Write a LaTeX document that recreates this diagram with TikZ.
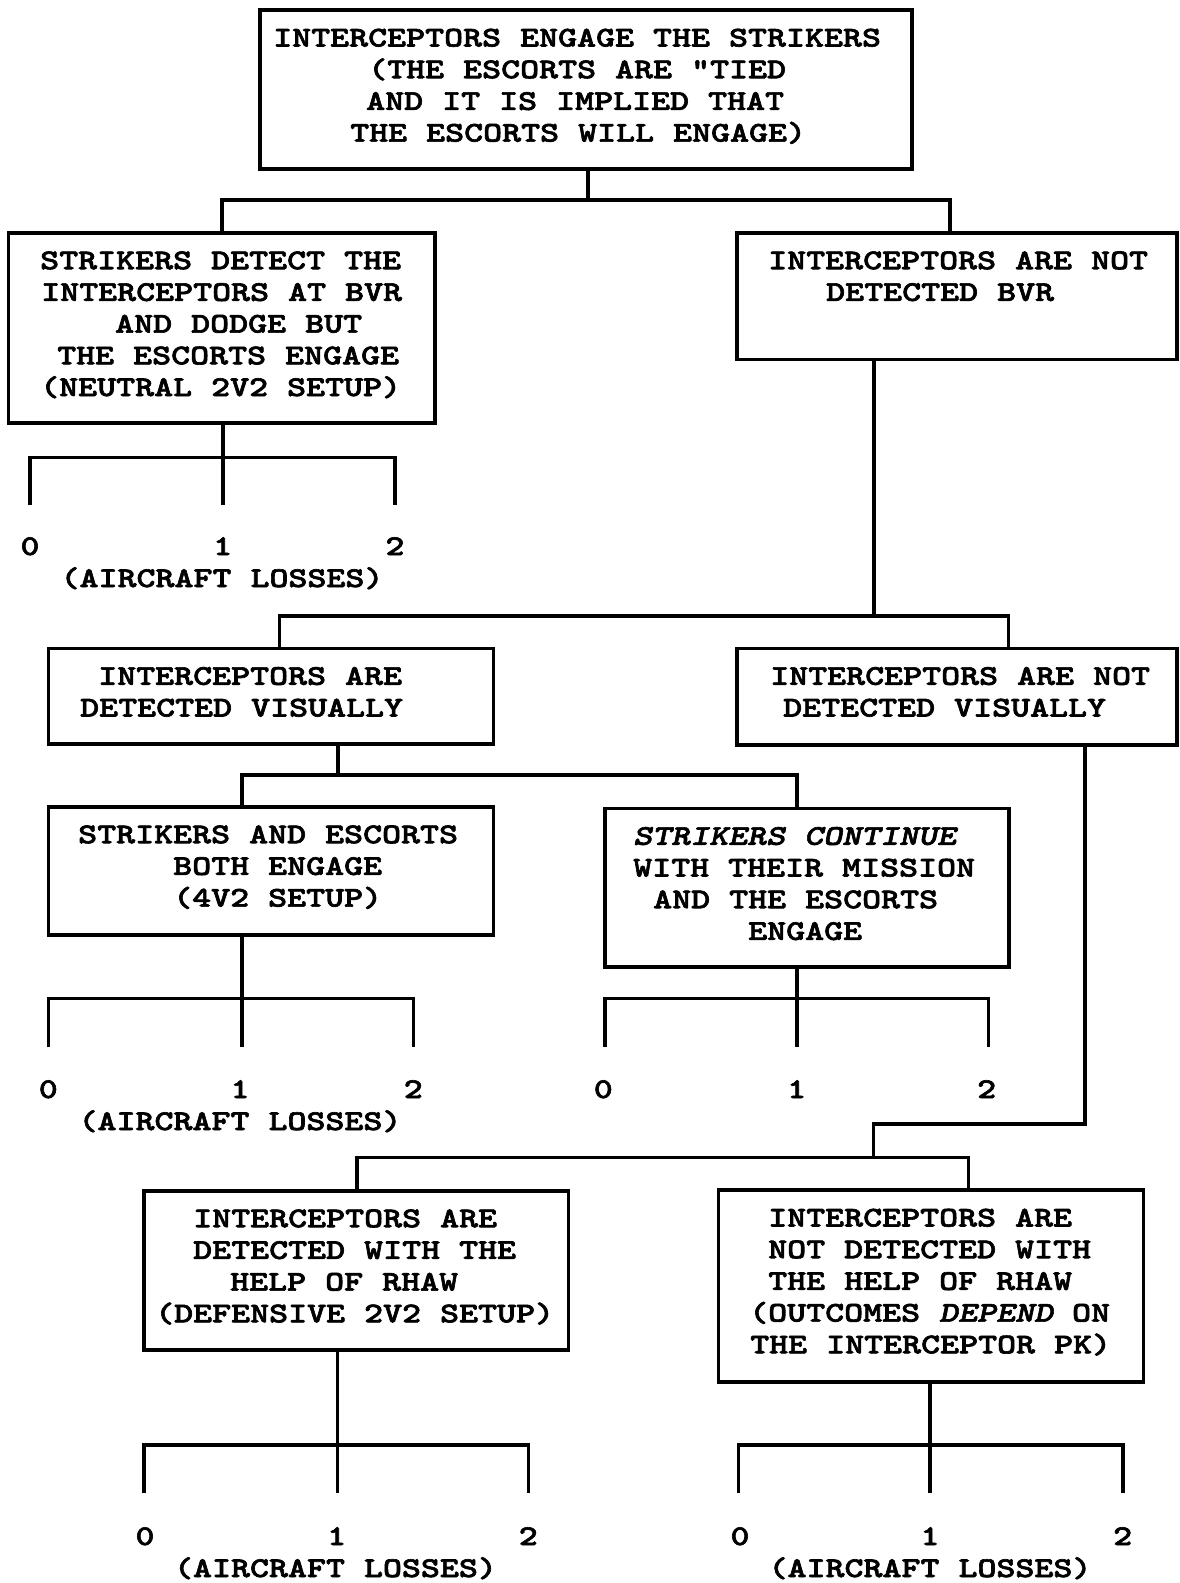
\documentclass[tikz,border=0pt]{standalone}
\usepackage{fontspec}
\newfontfamily\tw{lmmonolt10-bold.otf}[FakeStretch=1.265, FakeBold=2.2, ItalicFont=lmmonolt10-boldoblique.otf]
\begin{document}
\begin{tikzpicture}[x=1pt,y=-1pt,
  box/.style={draw, line width=3.6pt, inner sep=0pt, outer sep=0pt},
  conn/.style={line width=3.6pt},
  txt/.style={inner sep=0pt, anchor=base west, font=\fontsize{28.6}{31.7}\tw},
  lbl/.style={inner sep=0pt, anchor=base, font=\fontsize{28.6}{31.7}\tw}]
\useasboundingbox (0,0) rectangle (1179,1583);

% ---------- boxes ----------
\node[box, minimum width=652pt,   minimum height=159pt]   (top) at (586,89.5) {};
\node[box, minimum width=426.5pt, minimum height=190.3pt] (A)   at (221.75,327.85) {};
\node[box, minimum width=440.3pt, minimum height=126.6pt] (B)   at (956.85,296) {};
\node[box, minimum width=445pt,   minimum height=95.7pt]  (C)   at (270.8,696.15) {};
\node[box, minimum width=440.3pt, minimum height=96.7pt]  (D)   at (956.85,696.65) {};
\node[box, minimum width=445pt,   minimum height=128.3pt] (E)   at (270.8,870.85) {};
\node[box, minimum width=404pt,   minimum height=158.4pt] (F)   at (807,887.5) {};
\node[box, minimum width=424.3pt, minimum height=159.3pt] (G)   at (356.15,1270.35) {};
\node[box, minimum width=425pt,   minimum height=191.7pt] (H)   at (930.8,1285.85) {};

% ---------- box texts ----------
\node[txt] (t1) at (273,46.5)  {INTERCEPTORS ENGAGE THE STRIKERS};
\node[txt] (t2) at (368,78.2)  {(THE ESCORTS ARE "TIED};
\node[txt] (t3) at (366,109.9) {AND IT IS IMPLIED THAT};
\node[txt] (t4) at (350,141.6) {THE ESCORTS WILL ENGAGE)};

\node[txt] (a1) at (40,269.2)  {STRIKERS DETECT THE};
\node[txt] (a2) at (41,300.9)  {INTERCEPTORS AT BVR};
\node[txt] (a3) at (115,332.6) {AND DODGE BUT};
\node[txt] (a4) at (57,364.3)  {THE ESCORTS ENGAGE};
\node[txt] (a5) at (40,396)    {(NEUTRAL 2V2 SETUP)};

\node[txt] (b1) at (768,269.2) {INTERCEPTORS ARE NOT};
\node[txt] (b2) at (826,300.9) {DETECTED BVR};

\node[txt] (c1) at (98,684.8)  {INTERCEPTORS ARE};
\node[txt] (c2) at (80,716.5)  {DETECTED VISUALLY};

\node[txt] (d1) at (770,684.8) {INTERCEPTORS ARE NOT};
\node[txt] (d2) at (783,716.5) {DETECTED VISUALLY};

\node[txt] (e1) at (78,843.2)  {STRIKERS AND ESCORTS};
\node[txt] (e2) at (173,874.9) {BOTH ENGAGE};
\node[txt] (e3) at (173,906.6) {(4V2 SETUP)};

\node[txt] (f1) at (633,844.8) {\itshape STRIKERS CONTINUE};
\node[txt] (f2) at (633,876.5) {WITH THEIR MISSION};
\node[txt] (f3) at (653,908.2) {AND THE ESCORTS};
\node[txt] (f4) at (748,939.9) {ENGAGE};

\node[txt] (g1) at (193,1227.2) {INTERCEPTORS ARE};
\node[txt] (g2) at (193,1258.9) {DETECTED WITH THE};
\node[txt] (g3) at (230,1290.6) {HELP OF RHAW};
\node[txt] (g4) at (155,1322.3) {(DEFENSIVE 2V2 SETUP)};

\node[txt] (h1) at (768,1226.5) {INTERCEPTORS ARE};
\node[txt] (h2) at (768,1258.2) {NOT DETECTED WITH};
\node[txt] (h3) at (768,1289.9) {THE HELP OF RHAW};
\node[txt] (h4) at (749,1321.6) {(OUTCOMES {\itshape DEPEND} ON};
\node[txt] (h5) at (750,1353.3) {THE INTERCEPTOR PK)};

% ---------- tree connectors ----------
\coordinate (j1) at (588,200);
\draw[conn] ([xshift=2pt]top.south) -- (j1);
\draw[conn] (A.north) |- (j1) -| ([xshift=-7pt]B.north);

\coordinate (j2) at (874,615.7);
\draw[conn] ([xshift=-82.85pt]B.south) -- (j2);
\draw[conn] ([xshift=8.5pt]C.north) |- (j2) -| ([xshift=51.45pt]D.north);

\coordinate (j3) at (338,775);
\draw[conn] ([xshift=67.2pt]C.south) -- (j3);
\draw[conn] ([xshift=-29.1pt]E.north) |- (j3) -| ([xshift=-10.3pt]F.north);

\coordinate (j4) at (873.3,1157.3);
\draw[conn] ([xshift=128.15pt]D.south) -- ++(0,379) -| (j4);
\draw[conn] ([xshift=0.55pt]G.north) |- (j4) -| ([xshift=37.5pt]H.north);

% ---------- outcome forks ----------
% A
\coordinate (A0) at (30,505);   \coordinate (A2) at (395,505);
\draw[conn] ([xshift=1pt]A.south) -- ++(0,82);
\draw[conn] (A0) -- ++(0,-47.7) -| (A2);
% E
\coordinate (E0) at (48.3,1047); \coordinate (E2) at (413.3,1047);
\draw[conn] ([xshift=-29.1pt]E.north |- E.south) -- ++(0,112);
\draw[conn] (E0) -- ++(0,-48.7) -| (E2);
% F
\coordinate (F0) at (605,1047); \coordinate (F2) at (988.3,1047);
\draw[conn] ([xshift=-10.3pt]F.south) -- ++(0,80.3);
\draw[conn] (F0) -- ++(0,-48.7) -| (F2);
% G
\coordinate (G0) at (144,1493.3); \coordinate (G2) at (528.3,1493.3);
\draw[conn] ([xshift=-18.85pt]G.south) -- ++(0,143.3);
\draw[conn] (G0) -- ++(0,-48.3) -| (G2);
% H
\coordinate (H0) at (738.3,1493.3); \coordinate (H2) at (1122.7,1493.3);
\draw[conn] ([xshift=-0.8pt]H.south) -- ++(0,111.6);
\draw[conn] (H0) -- ++(0,-48.3) -| (H2);

% ---------- outcome labels ----------
\node[lbl] (la0) at (30,555) {0};
\node[lbl] (la1) at (222.7,555) {1};
\node[lbl] (la2) at (395,555) {2};
\node[lbl] (lal) at (222,587) {(AIRCRAFT LOSSES)};

\node[lbl] (le0) at (48.3,1098) {0};
\node[lbl] (le1) at (240,1098) {1};
\node[lbl] (le2) at (413.3,1098) {2};
\node[lbl] (lel) at (240,1130) {(AIRCRAFT LOSSES)};

\node[lbl] (lf0) at (603.3,1098) {0};
\node[lbl] (lf1) at (796.7,1098) {1};
\node[lbl] (lf2) at (986.7,1098) {2};

\node[lbl] (lg0) at (145,1545) {0};
\node[lbl] (lg1) at (336.7,1545) {1};
\node[lbl] (lg2) at (528.3,1545) {2};
\node[lbl] (lgl) at (335.5,1577) {(AIRCRAFT LOSSES)};

\node[lbl] (lh0) at (740,1545) {0};
\node[lbl] (lh1) at (930,1545) {1};
\node[lbl] (lh2) at (1122.7,1545) {2};
\node[lbl] (lhl) at (930,1577) {(AIRCRAFT LOSSES)};
\end{tikzpicture}
\end{document}
